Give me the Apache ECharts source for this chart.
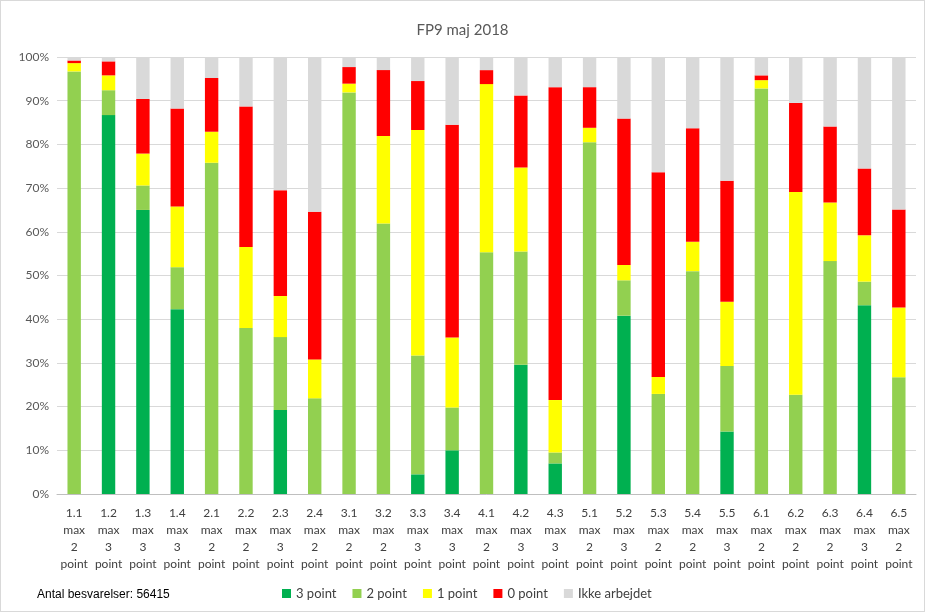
<!DOCTYPE html>
<html><head><meta charset="utf-8">
<script src="https://cdn.jsdelivr.net/npm/echarts@6/dist/echarts.min.js"></script>
<style>html,body{margin:0;padding:0;background:#fff}#c{width:925px;height:612px;box-sizing:border-box;border:1px solid #d9d9d9}</style>
</head><body><div id="c"></div>
<script>
const categories = ['1.1','1.2','1.3','1.4','2.1','2.2','2.3','2.4','3.1','3.2','3.3','3.4','4.1','4.2','4.3','5.1','5.2','5.3','5.4','5.5','6.1','6.2','6.3','6.4','6.5'];
const maxPoints = [2,3,3,3,2,2,3,2,2,2,3,3,2,3,3,2,3,2,2,3,2,2,2,3,2];
const p3 = [0,86.7,65.0,42.3,0,0,19.2,0,0,0,4.5,10.0,0,29.6,7.0,0,40.8,0,0,14.3,0,0,0,43.2,0];
const p2 = [96.7,5.7,5.6,9.6,75.8,38.0,16.7,21.9,91.9,61.9,27.2,9.8,55.3,25.9,2.5,80.5,8.1,22.9,51.0,15.0,92.8,22.7,53.3,5.4,26.7];
const p1 = [1.9,3.4,7.3,13.9,7.1,18.5,9.4,8.9,2.0,20.0,51.6,16.0,38.5,19.2,12.0,3.3,3.5,3.9,6.7,14.7,1.9,46.4,13.4,10.6,16.0];
const p0 = [0.6,3.2,12.5,22.4,12.3,32.2,24.2,33.8,3.8,15.1,11.2,48.7,3.2,16.5,71.6,9.3,33.5,46.8,26.0,27.7,1.1,20.4,17.4,15.3,22.4];
const ikke = [0.8,1.0,9.6,11.8,4.8,11.3,30.5,35.4,2.3,3.0,5.5,15.5,3.0,8.8,6.9,6.9,14.1,26.4,16.3,28.3,4.2,10.5,15.9,25.5,34.9];
const seriesNames = ['3 point','2 point','1 point','0 point','Ikke arbejdet'];
const colors = ['#00B050','#92D050','#FFFF00','#FF0000','#D9D9D9'];
const yTicks = [0,10,20,30,40,50,60,70,80,90,100];

const labels = categories.map((c,i)=>c+'\nmax\n'+maxPoints[i]+'\npoint');
const dataSets = [p3,p2,p1,p0,ikke];
const font = 'Lato, "Open Sans", sans-serif';
const chart = echarts.init(document.getElementById('c'));
chart.setOption({
  animation:false,
  title:{text:'FP9 maj 2018',left:'center',top:17,textStyle:{fontFamily:font,fontSize:15,fontWeight:'normal',color:'#595959'}},
  grid:{left:56,right:8,top:56,bottom:117},
  legend:{bottom:6,left:276,itemWidth:9,itemHeight:9,itemGap:16,icon:'rect',textStyle:{fontFamily:font,fontSize:13,color:'#404040'},data:seriesNames},
  graphic:[{type:'text',left:36,bottom:10,style:{text:'Antal besvarelser: 56415',font:'12px "Liberation Sans", Arial, sans-serif',fill:'#000'}}],
  xAxis:{type:'category',data:labels,axisTick:{show:false},axisLine:{lineStyle:{color:'#bfbfbf',width:1}},
    axisLabel:{interval:0,margin:11,lineHeight:17,fontFamily:font,fontSize:12,color:'#404040'}},
  yAxis:{type:'value',min:0,max:100,interval:10,
    axisLabel:{formatter:v=>yTicks.includes(v)?v+'%':'',fontFamily:font,fontSize:12,color:'#595959',margin:8},
    splitLine:{lineStyle:{color:'#d9d9d9'}},axisLine:{show:false},axisTick:{show:false}},
  series:seriesNames.map((n,k)=>({name:n,type:'bar',stack:'all',data:dataSets[k],barWidth:'39%',itemStyle:{color:colors[k]}}))
});
</script></body></html>
